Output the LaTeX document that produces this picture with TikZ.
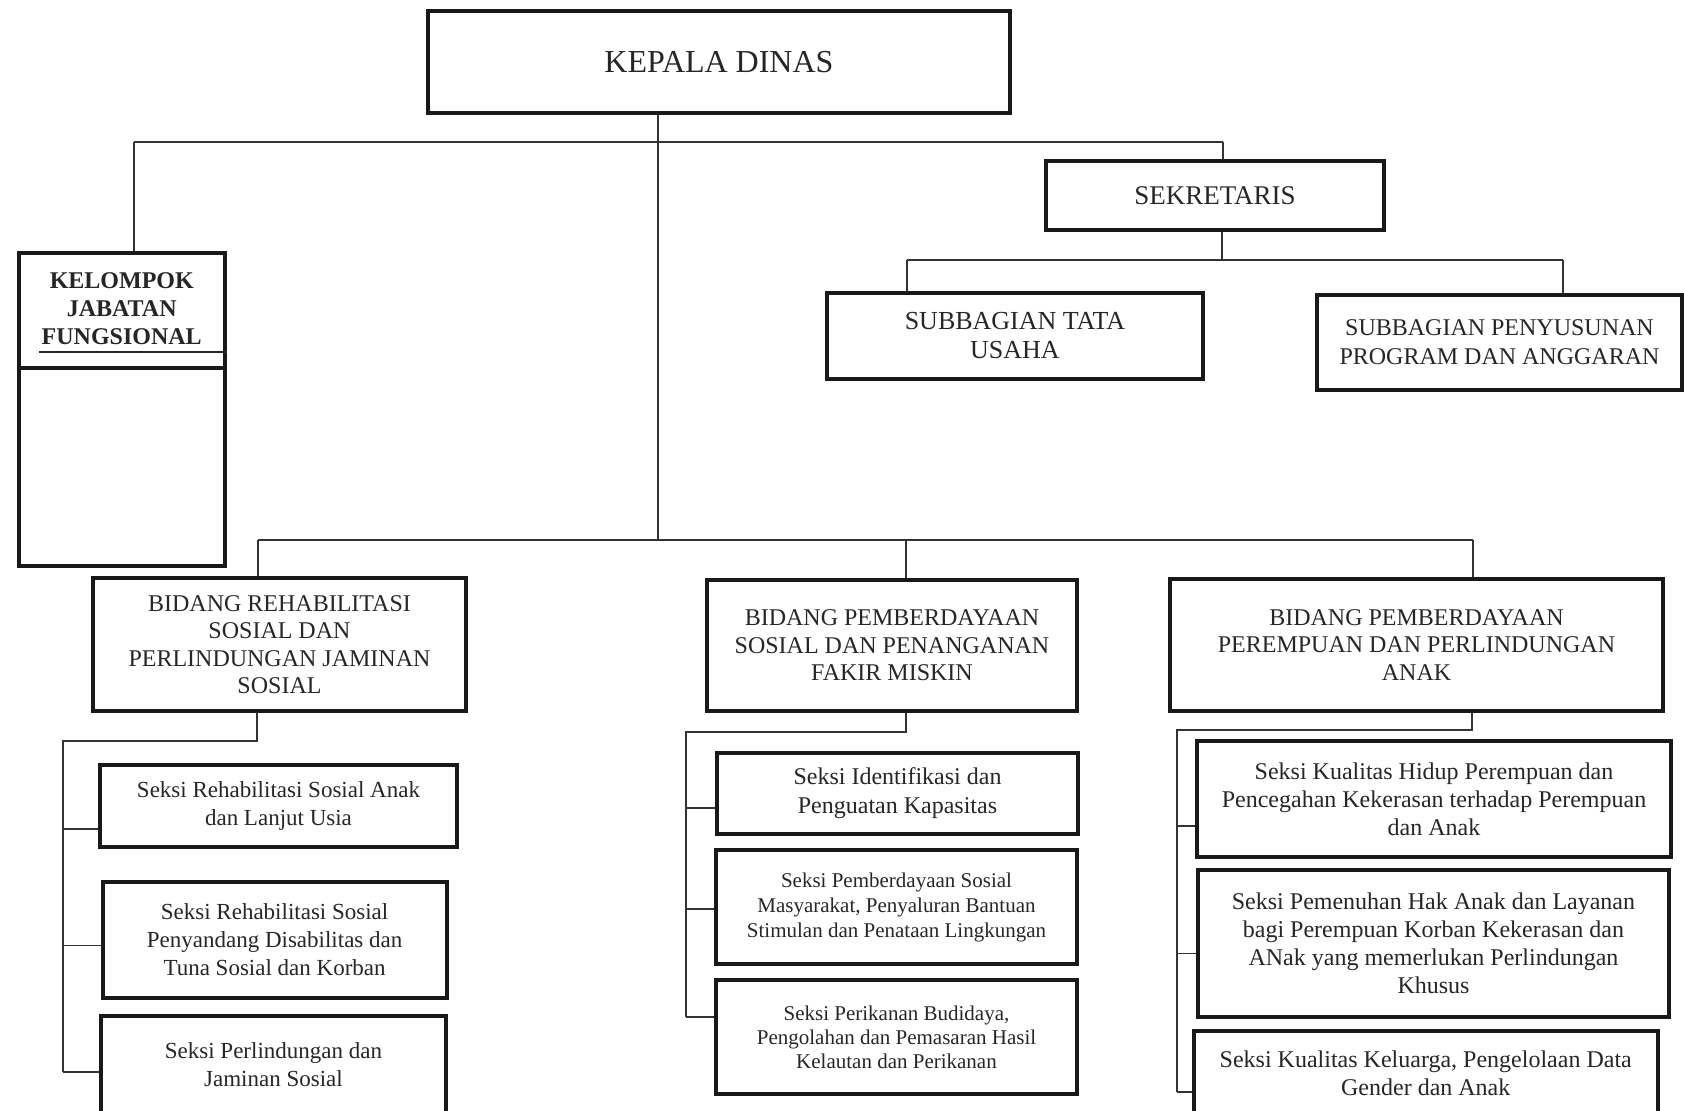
\documentclass[tikz,border=0pt]{standalone}
\usepackage{fontspec}
\setmainfont{Liberation Serif}
\newcommand\myfs[2]{\fontsize{#1}{#2}\selectfont}
\tikzset{
  box/.style={draw=black!90, line width=4pt, inner sep=0pt, align=center, text=black!85},
  conn/.style={draw=black!80, line width=1.5pt},
}
\begin{document}
\begin{tikzpicture}[x=1pt,y=-1pt]
\useasboundingbox (0,0) rectangle (1684,1111);
\clip (0,0) rectangle (1684,1111);
% top level
\node[box, minimum width=582, minimum height=102, font=\myfs{32}{36}] (kd) at (719,62) {KEPALA DINAS};
\node[box, minimum width=205.5, minimum height=313] (kjf) at (121.75,409.5) {};
\node[align=center, inner sep=0pt, font=\bfseries\myfs{24}{28}, text=black!85] (kjft) at (121.75,309) {KELOMPOK\\JABATAN\\FUNGSIONAL};
\node[box, minimum width=338, minimum height=69, font=\myfs{27}{30}] (sek) at (1215,195.5) {SEKRETARIS};
\node[box, minimum width=376, minimum height=86, font=\myfs{26}{29}] (sub1) at (1015,336) {SUBBAGIAN TATA\\USAHA};
\node[box, minimum width=365, minimum height=95, font=\myfs{24}{29}] (sub2) at (1499.5,342.5) {SUBBAGIAN PENYUSUNAN\\PROGRAM DAN ANGGARAN};
% bidang
\node[box, minimum width=373, minimum height=133, font=\myfs{24}{27.5}] (b1) at (279.5,644.5) {BIDANG REHABILITASI\\SOSIAL DAN\\PERLINDUNGAN JAMINAN\\SOSIAL};
\node[box, minimum width=370, minimum height=131, font=\myfs{24}{27.5}] (b2) at (892,645.5) {BIDANG PEMBERDAYAAN\\SOSIAL DAN PENANGANAN\\FAKIR MISKIN};
\node[box, minimum width=493, minimum height=132, font=\myfs{24}{27.5}] (b3) at (1416.5,645) {BIDANG PEMBERDAYAAN\\PEREMPUAN DAN PERLINDUNGAN\\ANAK};
% seksi col 1
\node[box, minimum width=357, minimum height=82.5, font=\myfs{23}{28}] (s11) at (278.5,805.75) {Seksi Rehabilitasi Sosial Anak\\dan Lanjut Usia};
\node[box, minimum width=344, minimum height=116, font=\myfs{23}{28}] (s12) at (274.6,939.5) {Seksi Rehabilitasi Sosial\\Penyandang Disabilitas dan\\Tuna Sosial dan Korban};
\node[box, minimum width=345, minimum height=98.6, font=\myfs{23}{28}] (s13) at (273.5,1065) {Seksi Perlindungan dan\\Jaminan Sosial};
% seksi col 2
\node[box, minimum width=361, minimum height=81.5, font=\myfs{24}{28.8}] (s21) at (897.5,793.25) {Seksi Identifikasi dan\\Penguatan Kapasitas};
\node[box, minimum width=361, minimum height=114, font=\myfs{21}{25}] (s22) at (896.5,907) {Seksi Pemberdayaan Sosial\\Masyarakat, Penyaluran Bantuan\\Stimulan dan Penataan Lingkungan};
\node[box, minimum width=361, minimum height=114, font=\myfs{21}{24}] (s23) at (896.5,1037) {Seksi Perikanan Budidaya,\\Pengolahan dan Pemasaran Hasil\\Kelautan dan Perikanan};
% seksi col 3
\node[box, minimum width=474, minimum height=116, font=\myfs{24}{28}] (s31) at (1434,799) {Seksi Kualitas Hidup Perempuan dan\\Pencegahan Kekerasan terhadap Perempuan\\dan Anak};
\node[box, minimum width=471, minimum height=147, font=\myfs{24}{28}] (s32) at (1433.5,943.5) {Seksi Pemenuhan Hak Anak dan Layanan\\bagi Perempuan Korban Kekerasan dan\\ANak yang memerlukan Perlindungan\\Khusus};
\node[box, minimum width=463.5, minimum height=84, font=\myfs{24}{28}] (s33) at (1425.75,1073) {Seksi Kualitas Keluarga, Pengelolaan Data\\Gender dan Anak};
% kelompok dividers
\draw[black!85, line width=2.5pt] (kjf.west |- 0,352) ++(22,0) -- (kjf.east |- 0,352);
\draw[black!90, line width=4pt] (kjf.west |- 0,367.5) -- (kjf.east |- 0,367.5);
% coordinates
\coordinate (topL) at (134,142);
\coordinate (topR) at (1223,142);
\coordinate (trunk) at (658,540);
\coordinate (botL) at (258,540);
\coordinate (botM) at (906,540);
\coordinate (botR) at (1473,540);
\coordinate (sekM) at (1222,260);
\coordinate (sekL) at (907,260);
\coordinate (sekR) at (1563,260);
% top level connectors
\draw[conn] (kd.south -| trunk) -- (trunk);
\draw[conn] (topL) -- (topR);
\draw[conn] (topL) -- (kjf.north -| topL);
\draw[conn] (topR) -- (sek.north -| topR);
\draw[conn] (sek.south -| sekM) -- (sekM);
\draw[conn] (sekL) -- (sekR);
\draw[conn] (sekL) -- (sub1.north -| sekL);
\draw[conn] (sekR) -- (sub2.north -| sekR);
\draw[conn] (botL) -- (botR);
\draw[conn] (botL) -- (b1.north -| botL);
\draw[conn] (botM) -- (b2.north -| botM);
\draw[conn] (botR) -- (b3.north -| botR);
% column 1
\coordinate (c1a) at (257,741);
\coordinate (c1s) at (63,741);
\draw[conn] (b1.south -| c1a) -- (c1a) -- (c1s) -- (63,1072);
\draw[conn] (63,829) -- (s11.west |- 0,829);
\draw[conn] (63,945.5) -- (s12.west |- 0,945.5);
\draw[conn] (63,1072) -- (s13.west |- 0,1072);
% column 2
\coordinate (c2a) at (906,732);
\coordinate (c2s) at (686,732);
\draw[conn] (b2.south -| c2a) -- (c2a) -- (c2s) -- (686,1017);
\draw[conn] (686,808) -- (s21.west |- 0,808);
\draw[conn] (686,909) -- (s22.west |- 0,909);
\draw[conn] (686,1017) -- (s23.west |- 0,1017);
% column 3
\coordinate (c3a) at (1472,730);
\coordinate (c3s) at (1177,730);
\draw[conn] (b3.south -| c3a) -- (c3a) -- (c3s) -- (1177,1092);
\draw[conn] (1177,826) -- (s31.west |- 0,826);
\draw[conn] (1177,953.5) -- (s32.west |- 0,953.5);
\draw[conn] (1177,1092) -- (s33.west |- 0,1092);
\end{tikzpicture}
\end{document}
